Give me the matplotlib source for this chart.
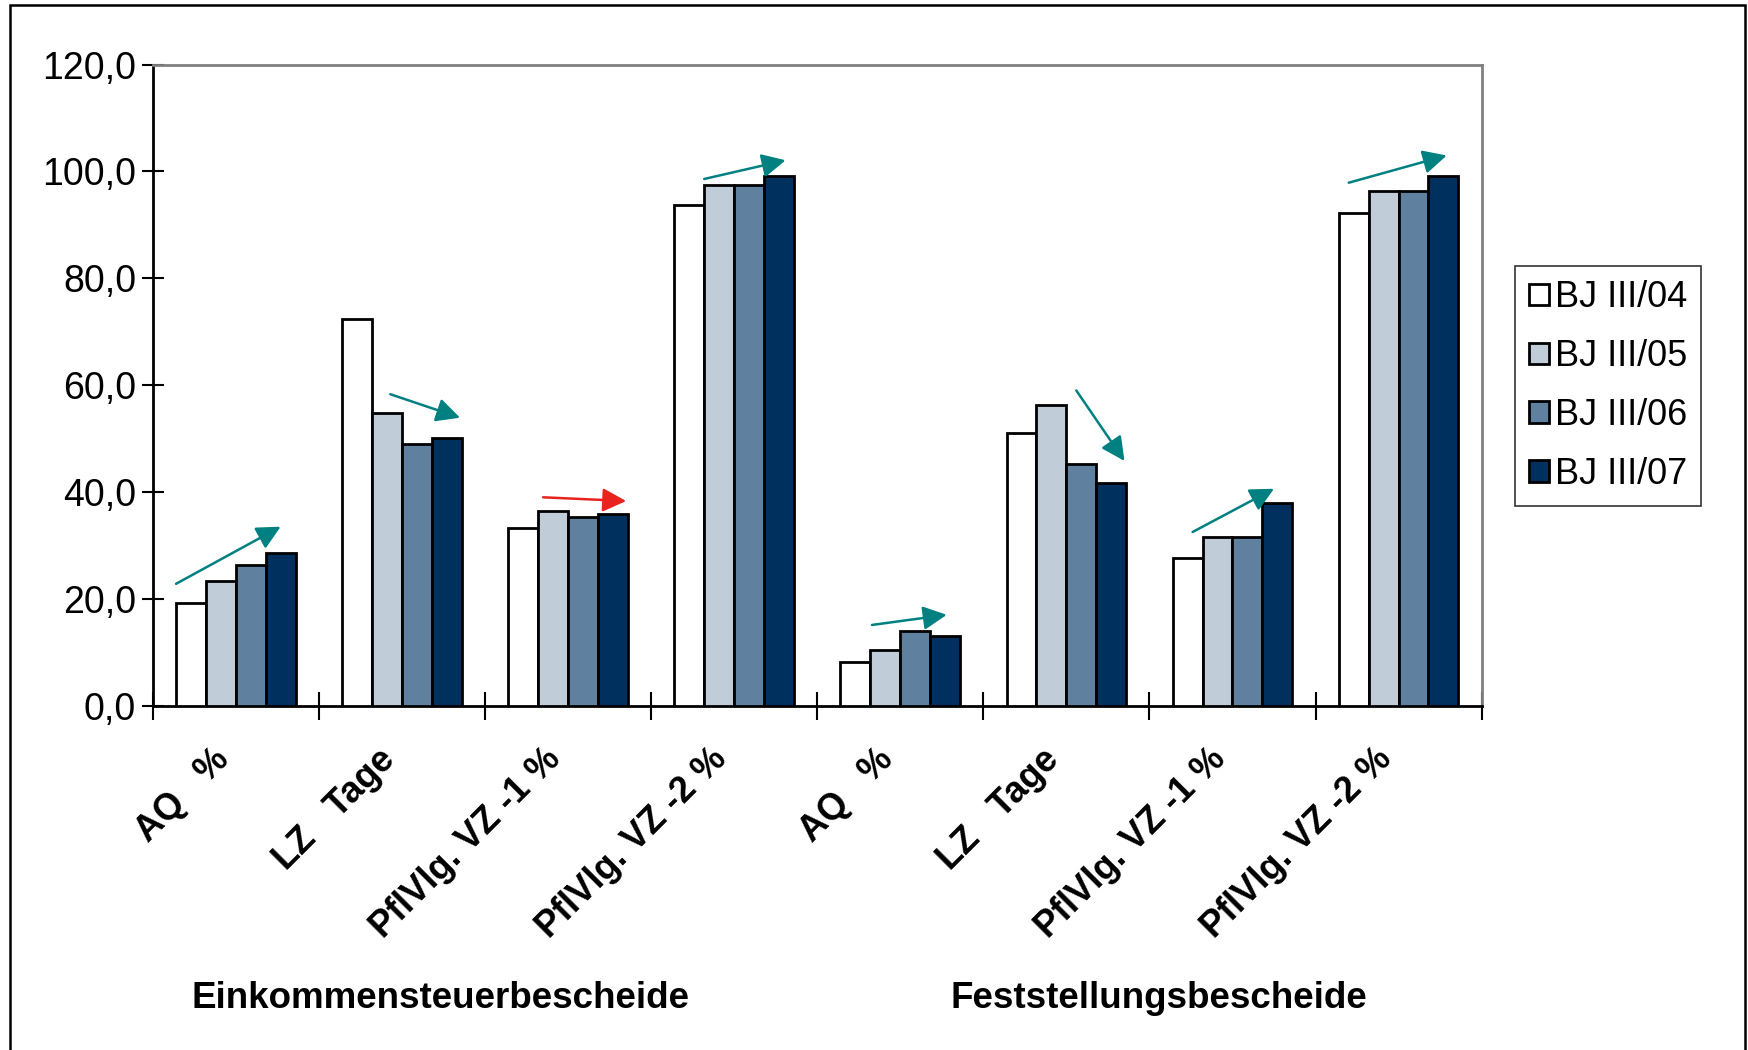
import matplotlib
matplotlib.use("Agg")
import matplotlib.pyplot as plt
from matplotlib.patches import Rectangle
from matplotlib.ticker import FuncFormatter, FixedLocator
import numpy as np

plt.rcParams['font.family'] = ['Liberation Sans', 'DejaVu Sans']

categories = ["AQ   %", "LZ   Tage", "PflVlg. VZ -1 %", "PflVlg. VZ -2 %",
              "AQ   %", "LZ   Tage", "PflVlg. VZ -1 %", "PflVlg. VZ -2 %"]
series_names = ["BJ III/04", "BJ III/05", "BJ III/06", "BJ III/07"]
bj04 = [19.2, 72.4, 33.3, 93.8, 8.2, 51.0, 27.6, 92.2]
bj05 = [23.4, 54.7, 36.5, 97.4, 10.4, 56.3, 31.6, 96.4]
bj06 = [26.4, 49.0, 35.3, 97.4, 14.0, 45.3, 31.6, 96.4]
bj07 = [28.6, 50.1, 35.9, 99.1, 13.0, 41.6, 38.0, 99.1]
group_labels = ["Einkommensteuerbescheide", "Feststellungsbescheide"]
yticks = [0, 20, 40, 60, 80, 100, 120]

# trend arrows (start x, start y, end x, end y) in data coords
arrow_start_x = [-0.36, 0.93, 1.85, 2.82, 3.83, 5.06, 5.76, 6.70]
arrow_start_y = [22.8, 58.3, 39.0, 98.6, 15.1, 59.0, 32.5, 97.9]
arrow_end_x = [0.27, 1.35, 2.35, 3.31, 4.28, 5.35, 6.25, 7.29]
arrow_end_y = [33.5, 53.9, 38.3, 102.1, 17.0, 45.8, 40.6, 103.0]
arrow_colors = ["#008080", "#008080", "#E8231E", "#008080",
                "#008080", "#008080", "#008080", "#008080"]

colors = ["#FFFFFF", "#C0CCD8", "#60809F", "#00305E"]

fig = plt.figure(figsize=(17.48, 10.5), dpi=100)
ax = fig.add_axes([0.0874, 0.328, 0.8476 - 0.0874, 0.9384 - 0.328])

x = np.arange(len(categories))
w = 0.18
data = [bj04, bj05, bj06, bj07]
for i, (vals, name, c) in enumerate(zip(data, series_names, colors)):
    ax.bar(x + (i - 1.5) * w, vals, width=w, color=c, edgecolor="black",
           linewidth=2.0, label=name, zorder=3)

for sx, sy, ex, ey, c in zip(arrow_start_x, arrow_start_y, arrow_end_x, arrow_end_y, arrow_colors):
    ax.annotate("", xy=(ex, ey), xytext=(sx, sy),
                arrowprops=dict(arrowstyle="-|>", color=c, lw=1.8,
                                mutation_scale=36, shrinkA=0, shrinkB=0),
                zorder=4)

ax.set_xlim(-0.5, len(categories) - 0.5)
ax.set_ylim(0, 120)
ax.set_yticks(yticks)
ax.yaxis.set_major_formatter(FuncFormatter(lambda v, p: f"{v:.1f}".replace(".", ",")))
ax.tick_params(axis="y", direction="inout", length=16, width=1.5, labelsize=27, pad=4)

# category boundaries as major ticks, labels as minor ticks
ax.xaxis.set_major_locator(FixedLocator(np.arange(-0.5, len(categories), 1.0)))
ax.xaxis.set_major_formatter(FuncFormatter(lambda v, p: ""))
ax.set_xticks(x, minor=True)
ax.set_xticklabels(categories, minor=True, rotation=45, ha="right",
                   fontsize=26, fontweight="bold")
ax.tick_params(axis="x", which="major", direction="inout", length=20, width=1.5)
ax.tick_params(axis="x", which="minor", length=0, pad=26)

for s in ["top", "right"]:
    ax.spines[s].set_color("#808080")
    ax.spines[s].set_linewidth(2)
for s in ["left", "bottom"]:
    ax.spines[s].set_color("black")
    ax.spines[s].set_linewidth(2)

leg = ax.legend(loc="upper left", bbox_to_anchor=(1.025, 0.686), fontsize=26,
                frameon=True, fancybox=False, shadow=False,
                handlelength=0.55, handleheight=0.55, handletextpad=0.15,
                labelspacing=0.66, borderpad=0.4, borderaxespad=0)
leg.get_frame().set_edgecolor("black")
leg.get_frame().set_linewidth(1.2)

fig.text(0.252, 0.0495, group_labels[0], ha="center", va="center",
         fontsize=26.5, fontweight="bold")
fig.text(0.663, 0.0495, group_labels[1], ha="center", va="center",
         fontsize=26.5, fontweight="bold")

fig.patches.append(Rectangle((0.0057, -0.02), 0.9926, 1.0152, transform=fig.transFigure,
                             fill=False, edgecolor="black", linewidth=1.8))

fig.savefig("out.png", dpi=100, facecolor="white")
